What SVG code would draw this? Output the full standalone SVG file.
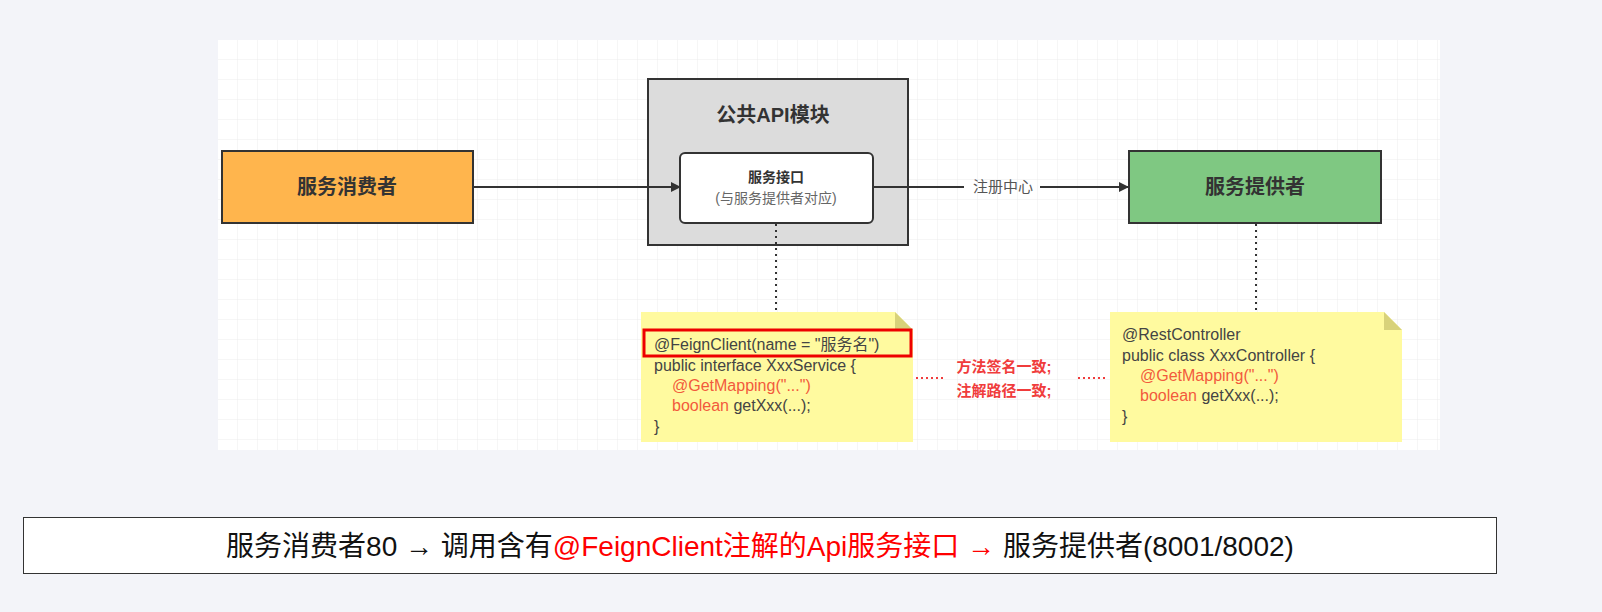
<svg xmlns="http://www.w3.org/2000/svg" width="1602" height="612" viewBox="0 0 1602 612">
<style>
text{font-family:"Liberation Sans","Noto Sans CJK SC",sans-serif}
.b{stroke:#333;stroke-width:2}
.big{font-size:20px;font-weight:bold;fill:#333;text-anchor:middle}
.code{font-size:16px;fill:#444}
.r{fill:#f25a3c}
.note{fill:#fffa9f}
</style>
<defs>
<pattern id="g" width="20" height="20" patternUnits="userSpaceOnUse" x="218" y="40">
<path d="M20 0V20H0" fill="none" stroke="#ececec" stroke-width="1"/>
</pattern>
<marker id="a" viewBox="0 0 10 10" refX="9" refY="5" markerWidth="10" markerHeight="10" markerUnits="userSpaceOnUse" orient="auto"><path d="M0 0L10 5L0 10z" fill="#333"/></marker>
</defs>
<rect width="1602" height="612" fill="#f3f4f9"/>
<rect x="218" y="40" width="1222" height="410" fill="#fff"/>
<rect x="218" y="40" width="1222" height="410" fill="url(#g)"/>
<g id="consumer"><rect x="222" y="151" width="251" height="72" fill="#ffb54d" class="b"/><text x="347" y="194" class="big">服务消费者</text></g>
<g id="api"><rect x="648" y="79" width="260" height="166" fill="#dcdcdc" class="b"/><text x="773" y="122" class="big">公共API模块</text></g>
<g id="iface"><rect x="680" y="153" width="193" height="70" rx="5" fill="#fff" class="b"/>
<text x="776" y="182" font-size="14" font-weight="bold" fill="#333" text-anchor="middle">服务接口</text>
<text x="776" y="203" font-size="14" fill="#666" text-anchor="middle">(与服务提供者对应)</text></g>
<g id="provider"><rect x="1129" y="151" width="252" height="72" fill="#7fc882" class="b"/><text x="1255" y="194" class="big">服务提供者</text></g>
<g id="note1"><path d="M641 312H895L913 330V442H641Z" class="note"/><path d="M895 312V330H913Z" fill="#d8d27a"/>
<rect x="644" y="330" width="267" height="26" fill="none" stroke="#e00" stroke-width="3"/>
<text class="code" x="654" y="350">@FeignClient(name = "服务名")</text>
<text class="code" x="654" y="371">public interface XxxService {</text>
<text class="code r" x="672" y="391">@GetMapping("...")</text>
<text class="code" x="672" y="411"><tspan class="r">boolean</tspan> getXxx(...);</text>
<text class="code" x="654" y="432">}</text></g>
<g id="note2"><path d="M1110 312H1384L1402 330V442H1110Z" class="note"/><path d="M1384 312V330H1402Z" fill="#d8d27a"/>
<text class="code" x="1122" y="340">@RestController</text>
<text class="code" x="1122" y="361">public class XxxController {</text>
<text class="code r" x="1140" y="381">@GetMapping("...")</text>
<text class="code" x="1140" y="401"><tspan class="r">boolean</tspan> getXxx(...);</text>
<text class="code" x="1122" y="422">}</text></g>
<g id="connectors" fill="none">
<path d="M473 187H680" stroke="#333" stroke-width="2" marker-end="url(#a)"/>
<path d="M874 187H964" stroke="#333" stroke-width="2"/>
<path d="M1040 187H1128" stroke="#333" stroke-width="2" marker-end="url(#a)"/>
<text x="1003" y="192" font-size="15" fill="#555" text-anchor="middle">注册中心</text>
<path d="M776 224V312M1256 224V312" stroke="#333" stroke-width="2" stroke-dasharray="2,4"/>
<path d="M916 378H945M1078 378H1108" stroke="#f03c3c" stroke-width="2" stroke-dasharray="2,3"/>
<text x="1004" y="372" font-size="15" font-weight="bold" fill="#f03c3c" text-anchor="middle">方法签名一致;</text>
<text x="1004" y="396" font-size="15" font-weight="bold" fill="#f03c3c" text-anchor="middle">注解路径一致;</text>
</g>
<g id="caption"><rect x="23.5" y="517.5" width="1473" height="56" fill="#fff" stroke="#333"/>
<text x="760" y="556" font-size="28" fill="#111" text-anchor="middle">服务消费者80 → 调用含有<tspan fill="#f00">@FeignClient注解的Api服务接口 →</tspan> 服务提供者(8001/8002)</text></g>
</svg>
